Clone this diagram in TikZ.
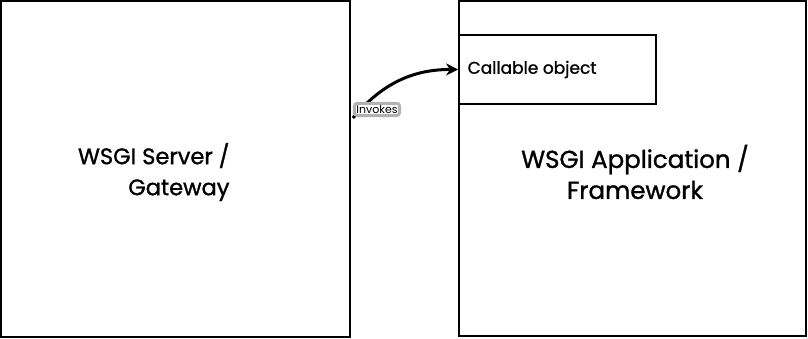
\documentclass[tikz,border=0pt]{standalone}
\usepackage{fontspec}
\setmainfont{Poppins}
\newfontfamily\sketchfont{Poppins}[FakeBold=1.2]
\usetikzlibrary{arrows.meta,positioning}

\begin{document}
\begin{tikzpicture}[
    x=1pt, y=-1pt,
    >={Stealth[length=12pt,width=12pt]},
    every node/.style={font=\sketchfont},
    block/.style={
        draw, line width=1.8pt, inner sep=0pt
    },
    bigtext/.style={font=\sketchfont\fontsize{22.5}{31}\selectfont, align=center},
    edge/.style={->, line width=3pt},
    elabel/.style={
        font=\fontsize{11}{12}\selectfont, draw=black!30, fill=white,
        rounded corners=3pt, inner sep=2pt
    }
]
\useasboundingbox (0,0) rectangle (808,338);

% Server-Seite
\node[block, minimum width=349pt, minimum height=336pt] (server) at (175.5,169) {};
\node[bigtext, align=right, anchor=east] (servertxt) at (233,172)
    {WSGI Server /\\Gateway};

% Application-Seite
\node[block, minimum width=347pt, minimum height=335pt] (app) at (632.5,168.5) {};
\node[bigtext, font=\sketchfont\fontsize{24.5}{31}\selectfont] (apptxt) at (635,172)
    {WSGI Application /\\Framework};

% Callable object
\node[block, minimum width=197pt, minimum height=69pt, fill=white] (callable) at (557.5,69.5) {};
\node[font=\sketchfont\fontsize{17}{19}\selectfont, anchor=west] (calltxt) at ([xshift=6pt]callable.west)
    {Callable object};

% Aufruf
\coordinate (start) at ([xshift=2pt]server.north east |- 0,118);
\draw[edge] (start) to[bend left=25]
    node[elabel, pos=0, anchor=south west, yshift=1pt] (invokes) {Invokes} (callable.west);

\end{tikzpicture}
\end{document}
